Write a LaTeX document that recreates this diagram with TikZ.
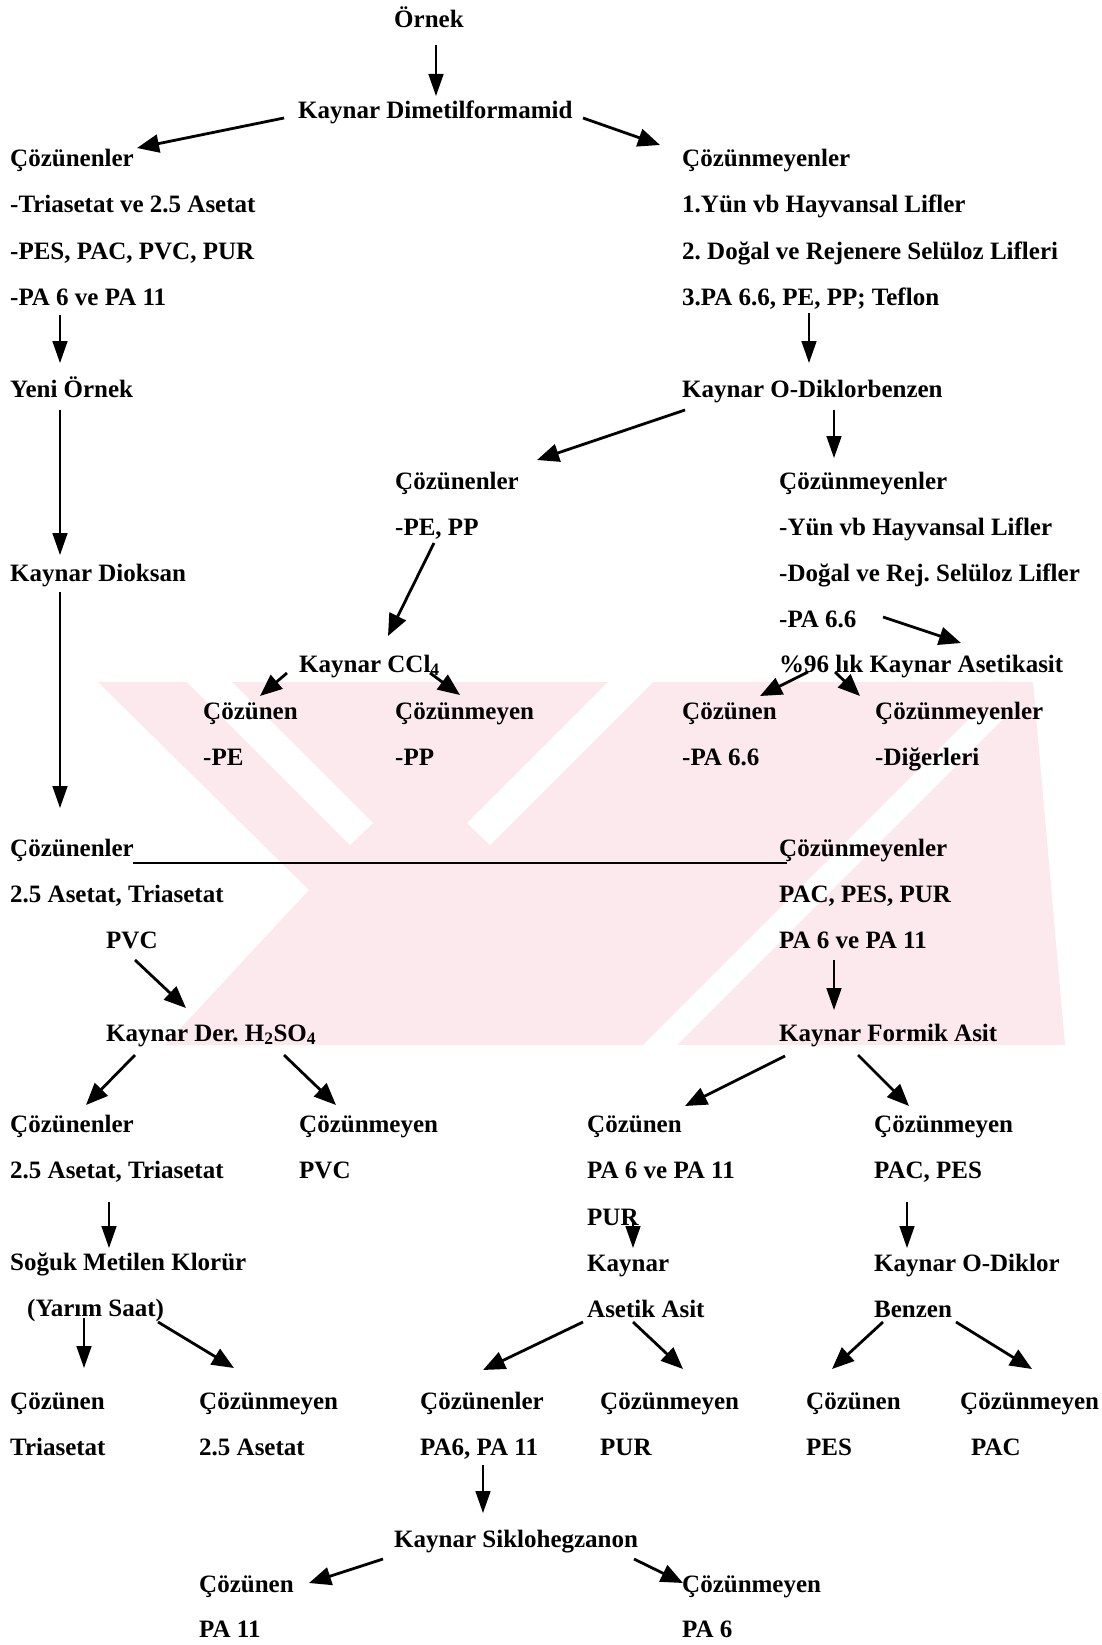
\documentclass[tikz,border=0pt]{standalone}
\usepackage{fontspec}
\setmainfont{Liberation Serif}
\usetikzlibrary{arrows.meta}
\definecolor{wm}{RGB}{252,233,237}
\begin{document}
\begin{tikzpicture}[x=1pt,y=-1pt,
  txt/.style={anchor=base west, inner sep=0pt, font=\fontsize{25}{30}\selectfont\bfseries\frenchspacing},
  darr/.style={line width=2.8pt, -{Triangle[length=22pt,width=18pt]}},
  varr/.style={line width=1.6pt, -{Triangle[length=22pt,width=15pt]}},
  hline/.style={line width=2.8pt}]
\useasboundingbox (0,0) rectangle (1101,1645);
\fill[white] (0,0) rectangle (1101,1645);
% watermark
\fill[wm] (98,682) -- (1033,682) -- (1065,1045) -- (165,1045) -- (309,890) -- cycle;
\fill[white] (187,682) -- (232,682) -- (373,823) -- (350,845) -- cycle;
\fill[white] (608,682) -- (653,682) -- (490,845) -- (467,823) -- cycle;
\fill[white] (973,715) -- (1007,715) -- (677,1045) -- (643,1045) -- cycle;

% nodes
\node[txt] (ornek) at (394,28) {Örnek};
\node[txt] (kdm) at (298,119) {Kaynar Dimetilformamid};
\node[txt] (cL) at (10,167) {Çözünenler};
\node[txt] (l1) at (10,213) {-Triasetat ve 2.5 Asetat};
\node[txt] (l2) at (10,259) {-PES, PAC, PVC, PUR};
\node[txt] (l3) at (10,305) {-PA 6 ve PA 11};
\node[txt] (yeni) at (10,397) {Yeni Örnek};
\node[txt] (diok) at (10,581) {Kaynar Dioksan};
\node[txt] (cL2) at (10,856) {Çözünenler};
\node[txt] (l4) at (10,902) {2.5 Asetat, Triasetat};
\node[txt] (pvc) at (106,948) {PVC};
\node[txt] (h2so4) at (106,1041) {Kaynar Der. H\textsubscript{2}SO\textsubscript{4}};
\node[txt] (cL3) at (10,1132) {Çözünenler};
\node[txt] (l5) at (10,1178) {2.5 Asetat, Triasetat};
\node[txt] (cM3) at (299,1132) {Çözünmeyen};
\node[txt] (pvc2) at (299,1178) {PVC};
\node[txt] (sogk) at (10,1270) {Soğuk Metilen Klorür};
\node[txt] (yarim) at (27,1316) {(Yarım Saat)};
\node[txt] (c4) at (10,1409) {Çözünen};
\node[txt] (tri) at (10,1455) {Triasetat};
\node[txt] (m4) at (199,1409) {Çözünmeyen};
\node[txt] (a25) at (199,1455) {2.5 Asetat};

\node[txt] (cR) at (682,167) {Çözünmeyenler};
\node[txt] (r1) at (682,213) {1.Yün vb Hayvansal Lifler};
\node[txt] (r2) at (682,259) {2. Doğal ve Rejenere Selüloz Lifleri};
\node[txt] (r3) at (682,305) {3.PA 6.6, PE, PP; Teflon};
\node[txt] (kod) at (682,397) {Kaynar O-Diklorbenzen};
\node[txt] (cE) at (395,489) {Çözünenler};
\node[txt] (pepp) at (395,535) {-PE, PP};
\node[txt] (cMr) at (779,489) {Çözünmeyenler};
\node[txt] (r4) at (779,535) {-Yün vb Hayvansal Lifler};
\node[txt] (r5) at (779,581) {-Doğal ve Rej. Selüloz Lifler};
\node[txt] (r6) at (779,627) {-PA 6.6};
\node[txt] (ccl) at (299,672) {Kaynar CCl\textsubscript{4}};
\node[txt] (asetik) at (779,672) {\%96 lık Kaynar Asetikasit};
\node[txt] (pe1) at (203,719) {Çözünen};
\node[txt] (pe) at (203,765) {-PE};
\node[txt] (pp1) at (395,719) {Çözünmeyen};
\node[txt] (pp) at (395,765) {-PP};
\node[txt] (pa1) at (682,719) {Çözünen};
\node[txt] (pa66) at (682,765) {-PA 6.6};
\node[txt] (dig1) at (875,719) {Çözünmeyenler};
\node[txt] (dig) at (875,765) {-Diğerleri};
\node[txt] (cMb) at (779,856) {Çözünmeyenler};
\node[txt] (b1) at (779,902) {PAC, PES, PUR};
\node[txt] (b2) at (779,948) {PA 6 ve PA 11};
\node[txt] (formik) at (779,1041) {Kaynar Formik Asit};
\node[txt] (f1) at (587,1132) {Çözünen};
\node[txt] (f2) at (587,1178) {PA 6 ve PA 11};
\node[txt] (f3) at (587,1225) {PUR};
\node[txt] (g1) at (874,1132) {Çözünmeyen};
\node[txt] (g2) at (874,1178) {PAC, PES};
\node[txt] (ka) at (587,1271) {Kaynar};
\node[txt] (aa) at (587,1317) {Asetik Asit};
\node[txt] (kod2) at (874,1271) {Kaynar O-Diklor};
\node[txt] (benz) at (874,1317) {Benzen};
\node[txt] (h1) at (420,1409) {Çözünenler};
\node[txt] (h2) at (420,1455) {PA6, PA 11};
\node[txt] (i1) at (600,1409) {Çözünmeyen};
\node[txt] (i2) at (600,1455) {PUR};
\node[txt] (j1) at (806,1409) {Çözünen};
\node[txt] (j2) at (806,1455) {PES};
\node[txt] (k1) at (960,1409) {Çözünmeyen};
\node[txt] (k2) at (971,1455) {PAC};
\node[txt] (sik) at (394,1547) {Kaynar Siklohegzanon};
\node[txt] (m1) at (199,1592) {Çözünen};
\node[txt] (m2) at (199,1637) {PA 11};
\node[txt] (n1) at (682,1592) {Çözünmeyen};
\node[txt] (n2) at (682,1637) {PA 6};

% connectors
\draw[varr] ([shift={(42,17)}]ornek.base west) -- ([shift={(138,-23)}]kdm.base west);
\draw[darr] ([shift={(-14,-1)}]kdm.base west) -- ([shift={(127,-19)}]cL.base west);
\draw[darr] ([shift={(285,-1)}]kdm.base west) -- ([shift={(-22,-22)}]cR.base west);
\draw[varr] ([shift={(50,10)}]l3.base west) -- ([shift={(50,-34)}]yeni.base west);
\draw[varr] ([shift={(127,8)}]r3.base west) -- ([shift={(127,-34)}]kod.base west);
\draw[varr] ([shift={(50,13)}]yeni.base west) -- ([shift={(50,-26)}]diok.base west);
\draw[varr] ([shift={(50,11)}]diok.base west) -- ([shift={(50,-48)}]cL2.base west);
\draw[darr] ([shift={(3,13)}]kod.base west) -- ([shift={(142,-29)}]cE.base west);
\draw[varr] ([shift={(152,13)}]kod.base west) -- ([shift={(55,-31)}]cMr.base west);
\draw[darr] ([shift={(39,8)}]pepp.base west) -- ([shift={(89,-36)}]ccl.base west);
\draw[darr] ([shift={(-12,1)}]ccl.base west) -- ([shift={(57,-23)}]pe1.base west);
\draw[darr] ([shift={(131,1)}]ccl.base west) -- ([shift={(65,-24)}]pp1.base west);
\draw[darr] ([shift={(104,-10)}]r6.base west) -- ([shift={(182,-29)}]asetik.base west);
\draw[darr] ([shift={(29,0)}]asetik.base west) -- ([shift={(78,-23)}]pa1.base west);
\draw[darr] ([shift={(56,0)}]asetik.base west) -- ([shift={(-15,-23)}]dig1.base west);
\draw[hline] ([shift={(123,7)}]cL2.base west) -- ([shift={(8,7)}]cMb.base west);
\draw[darr] ([shift={(29,12)}]pvc.base west) -- ([shift={(80,-33)}]h2so4.base west);
\draw[varr] ([shift={(55,12)}]b2.base west) -- ([shift={(55,-31)}]formik.base west);
\draw[darr] ([shift={(29,14)}]h2so4.base west) -- ([shift={(76,-27)}]cL3.base west);
\draw[darr] ([shift={(178,14)}]h2so4.base west) -- ([shift={(37,-27)}]cM3.base west);
\draw[darr] ([shift={(6,15)}]formik.base west) -- ([shift={(98,-26)}]f1.base west);
\draw[darr] ([shift={(79,14)}]formik.base west) -- ([shift={(35,-26)}]g1.base west);
\draw[varr] ([shift={(99,24)}]l5.base west) -- ([shift={(99,-22)}]sogk.base west);
\draw[varr] ([shift={(33,24)}]g2.base west) -- ([shift={(33,-23)}]kod2.base west);
\draw[varr] ([shift={(46,-5)}]f3.base west) -- ([shift={(46,-23)}]ka.base west);
\draw[varr] ([shift={(57,2)}]yarim.base west) -- ([shift={(74,-41)}]c4.base west);
\draw[darr] ([shift={(131,6)}]yarim.base west) -- ([shift={(35,-41)}]m4.base west);
\draw[darr] ([shift={(-4,5)}]aa.base west) -- ([shift={(63,-39)}]h1.base west);
\draw[darr] ([shift={(46,5)}]aa.base west) -- ([shift={(83,-40)}]i1.base west);
\draw[darr] ([shift={(9,5)}]benz.base west) -- ([shift={(26,-40)}]j1.base west);
\draw[darr] ([shift={(82,5)}]benz.base west) -- ([shift={(72,-40)}]k1.base west);
\draw[varr] ([shift={(63,10)}]h2.base west) -- ([shift={(89,-34)}]sik.base west);
\draw[darr] ([shift={(-11,12)}]sik.base west) -- ([shift={(110,-9)}]m1.base west);
\draw[darr] ([shift={(240,12)}]sik.base west) -- ([shift={(1,-9)}]n1.base west);
\end{tikzpicture}
\end{document}
